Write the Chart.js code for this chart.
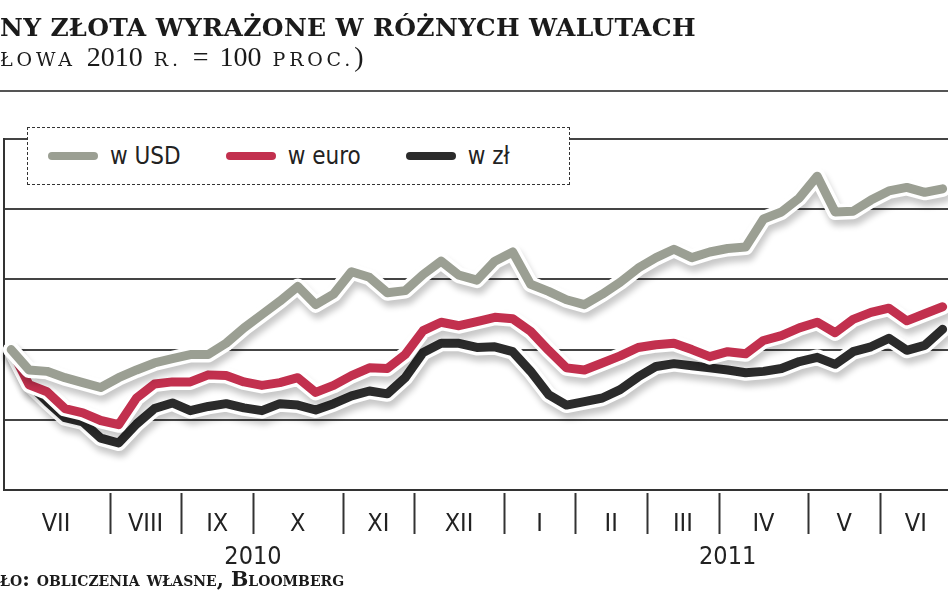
<!DOCTYPE html>
<html>
<head>
<meta charset="utf-8">
<script src="https://cdn.jsdelivr.net/npm/chart.js@4.4.0/dist/chart.umd.min.js"></script>
<style>
  body { margin: 0; background: #fff; }
  #page { position: relative; width: 948px; height: 593px; overflow: hidden; background: #fff; }
  #wrap { position: absolute; left: 0; top: 0; width: 948px; height: 593px; }
  .title { position: absolute; left: 0; top: 13px; font: bold 25px "DejaVu Serif", serif; letter-spacing: 0.35px; color: #1b1b1b; white-space: nowrap; }
  .subtitle { position: absolute; left: 0; top: 41px; font: 28px "Liberation Serif", serif; word-spacing: 4px; color: #1b1b1b; white-space: nowrap; }
  .subtitle .sc { font: 19px "DejaVu Serif", serif; letter-spacing: 3.8px; }
  .rule { position: absolute; left: 0; top: 90px; width: 948px; height: 2px; background: #555; }
  .source { position: absolute; left: 0; top: 567px; font: bold 20.5px "DejaVu Serif", serif; font-variant: small-caps; color: #1b1b1b; white-space: nowrap; }
  #legend { position: absolute; left: 27px; top: 127px; width: 543px; height: 58px; border: 1.5px dashed #333; background: #fff;
            display: flex; align-items: center; padding-left: 20px; box-sizing: border-box; }
  .sw { display: inline-block; width: 50px; height: 8px; border-radius: 4px; margin-right: 12px; }
  .lt { font: 24px "DejaVu Sans Condensed", "DejaVu Sans", sans-serif; font-stretch: condensed; color: #222; margin-right: 45px; }
</style>
</head>
<body>
<div id="page">
  <div id="wrap"><canvas id="goldChart"></canvas></div>
  <div class="title">NY ZŁOTA WYRAŻONE W RÓŻNYCH WALUTACH</div>
  <div class="subtitle"><span class="sc">ŁOWA</span> 2010 <span class="sc">R.</span> = 100 <span class="sc">PROC.</span>)</div>
  <div class="rule"></div>
  <div id="legend"></div>
  <div class="source">ło: obliczenia własne, Bloomberg</div>
</div>
<script>
// weekly readings: point 0 = base (100), then one point per week, Jul 2010 - Jun 2011
var monthLabels = ['VII', 'VIII', 'IX', 'X', 'XI', 'XII', 'I', 'II', 'III', 'IV', 'V', 'VI'];
var weeksPerMonth = [5, 4, 4, 5, 4, 5, 4, 4, 4, 5, 4, 4];
var yearLabels = ['2010', '2011'];
var monthsPerYear = [6, 6];

var seriesNames = ['w USD', 'w euro', 'w zł'];
var seriesColors = ['#9b9f93', '#c2304e', '#2b2b2b'];

var usd = [100, 97.1, 96.9, 96, 95.3, 94.6, 96, 97.1, 98.1, 98.7,
           99.3, 99.3, 100.9, 103.1, 105, 106.9, 109, 106.4, 107.9, 111.1,
           110.3, 108.1, 108.4, 110.7, 112.6, 110.6, 109.9, 112.6, 113.9, 109.3,
           108.3, 107.1, 106.4, 107.9, 109.6, 111.6, 113.1, 114.3, 113.1, 113.9,
           114.4, 114.6, 118.6, 119.6, 121.6, 124.7, 119.6, 119.7, 121.3, 122.6,
           123.1, 122.4, 122.9];
var euro = [100, 95, 94, 91.6, 91, 89.9, 89.3, 93.1, 95.1, 95.4,
            95.4, 96.4, 96.3, 95.4, 94.9, 95.3, 96, 93.9, 94.9, 96.3,
            97.4, 97.3, 99.3, 102.7, 103.9, 103.4, 104, 104.6, 104.4, 102.6,
            99.9, 97.4, 97.1, 98.1, 99.1, 100.3, 100.7, 100.9, 100, 99,
            99.7, 99.4, 101.3, 102, 103.1, 103.9, 102.4, 104.3, 105.3, 105.9,
            104.1, 105.1, 106.1];
var pln = [100, 95.1, 92.6, 90.3, 89.7, 87.4, 86.7, 89.4, 91.6, 92.4,
           91.3, 91.9, 92.3, 91.7, 91.3, 92.3, 92.1, 91.4, 92.3, 93.4,
           94.1, 93.7, 96, 99.6, 100.9, 100.9, 100.3, 100.4, 99.7, 96.9,
           93.6, 92.1, 92.6, 93.1, 94.3, 96.1, 97.6, 98, 97.7, 97.4,
           97.1, 96.7, 96.9, 97.3, 98.3, 98.9, 97.9, 99.7, 100.4, 101.6,
           99.9, 100.6, 102.9];

var yMin = 80, yMax = 130, yStep = 10;

// month separators sit between the last week of a month and the first of the next
var sepValues = [];
var monthTicks = [];
var acc = 0, start = -0.5;
weeksPerMonth.forEach(function (w, i) {
    acc += w;
    var end = acc + 0.5;
    monthTicks.push({ value: (start + end) / 2, label: monthLabels[i] });
    if (i < weeksPerMonth.length - 1) sepValues.push(end);
    start = end;
});
var yearTicks = [];
var mi = 0, yStart = -0.5;
monthsPerYear.forEach(function (m, i) {
    var weeks = 0;
    for (var j = 0; j < m; j++) weeks += weeksPerMonth[mi + j];
    mi += m;
    var yEnd = (i === 0 ? yStart + weeks + 1 : yStart + weeks);
    yearTicks.push({ value: (yStart + yEnd) / 2, label: yearLabels[i] });
    yStart = yEnd;
});

function toPoints(arr) {
    return arr.map(function (v, i) { return { x: i, y: v }; });
}
function labelFor(list, v) {
    var t = list.find(function (tt) { return Math.abs(tt.value - v) < 1e-6; });
    return t ? t.label : '';
}

// legend
var legendEl = document.getElementById('legend');
seriesNames.forEach(function (name, i) {
    var sw = document.createElement('span');
    sw.className = 'sw';
    sw.style.background = seriesColors[i];
    var lt = document.createElement('span');
    lt.className = 'lt';
    lt.textContent = name;
    legendEl.appendChild(sw);
    legendEl.appendChild(lt);
});

// white outline + soft shadow under each line
var haloPlugin = {
    id: 'halo',
    beforeDatasetDraw: function (chart, args) {
        var pts = args.meta.data;
        var c = chart.ctx;
        c.save();
        c.beginPath();
        pts.forEach(function (p, i) { if (i) c.lineTo(p.x, p.y); else c.moveTo(p.x, p.y); });
        c.lineJoin = 'round';
        c.lineCap = 'round';
        c.shadowColor = 'rgba(0,0,0,0.22)';
        c.shadowBlur = 6;
        c.shadowOffsetX = 2;
        c.shadowOffsetY = 6;
        c.strokeStyle = '#fff';
        c.lineWidth = 16;
        c.stroke();
        c.restore();
    }
};

// vertical month separators under the x axis
var monthSepPlugin = {
    id: 'monthSep',
    afterDraw: function (chart) {
        var sx = chart.scales.x;
        var c = chart.ctx;
        var y0 = chart.chartArea.bottom + 3;
        c.save();
        c.strokeStyle = '#333';
        c.lineWidth = 2;
        sepValues.forEach(function (v) {
            var px = Math.round(sx.getPixelForValue(v)) + 0.5;
            c.beginPath();
            c.moveTo(px, y0);
            c.lineTo(px, y0 + 41);
            c.stroke();
        });
        c.restore();
    }
};

var labelFont = { family: "'Liberation Sans Narrow', 'DejaVu Sans Condensed', sans-serif", size: 25 };

var ctx = document.getElementById('goldChart').getContext('2d');
var chartGold = new Chart(ctx, {
    type: 'line',
    plugins: [haloPlugin, monthSepPlugin],
    data: {
        datasets: [usd, euro, pln].map(function (arr, i) {
            return {
                label: seriesNames[i],
                data: toPoints(arr),
                borderColor: seriesColors[i],
                borderWidth: 9,
                borderJoinStyle: 'round',
                borderCapStyle: 'round',
                pointRadius: 0,
                tension: 0,
                fill: false
            };
        })
    },
    options: {
        responsive: true,
        maintainAspectRatio: false,
        animation: false,
        layout: { padding: { top: 139, left: 4, right: 0, bottom: 23 } },
        plugins: { legend: { display: false }, tooltip: { enabled: false } },
        scales: {
            x: {
                type: 'linear',
                position: 'bottom',
                min: -0.4,
                max: 52.3,
                afterBuildTicks: function (scale) {
                    scale.ticks = monthTicks.map(function (t) { return { value: t.value }; });
                },
                afterFit: function (scale) { scale.height = 44; },
                ticks: {
                    autoSkip: false,
                    maxRotation: 0,
                    padding: 11,
                    color: '#222',
                    font: labelFont,
                    callback: function (v) { return labelFor(monthTicks, v); }
                },
                grid: { display: false },
                border: { display: true, color: '#333', width: 2 }
            },
            x2: {
                type: 'linear',
                position: 'bottom',
                min: -0.4,
                max: 52.3,
                afterBuildTicks: function (scale) {
                    scale.ticks = yearTicks.map(function (t) { return { value: t.value }; });
                },
                afterFit: function (scale) { scale.height = 36; },
                ticks: {
                    autoSkip: false,
                    maxRotation: 0,
                    padding: 0,
                    color: '#222',
                    font: labelFont,
                    callback: function (v) { return labelFor(yearTicks, v); }
                },
                grid: { display: false },
                border: { display: false }
            },
            y: {
                min: yMin,
                max: yMax,
                ticks: { display: false, stepSize: yStep },
                grid: { color: '#444', lineWidth: 2, drawTicks: false },
                border: { display: true, color: '#333', width: 2 }
            }
        }
    }
});
</script>
</body>
</html>
